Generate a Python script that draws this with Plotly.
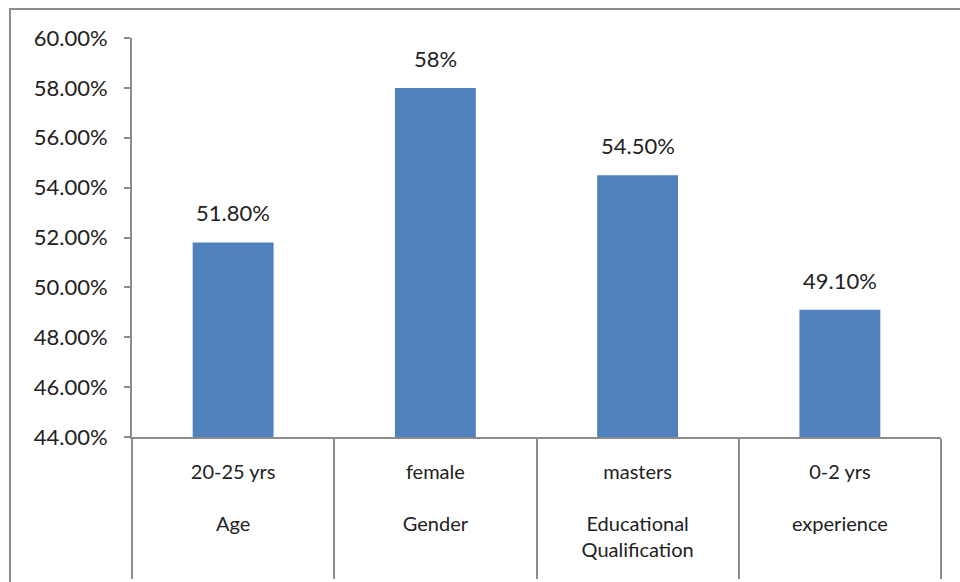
import plotly.graph_objects as go

categories = ["20-25 yrs<br><br>Age", "female<br><br>Gender",
              "masters<br><br>Educational<br>Qualification", "0-2 yrs<br><br>experience"]
values = [0.518, 0.58, 0.545, 0.491]
labels = ["51.80%", "58%", "54.50%", "49.10%"]

FONT = "Lato"
GRAY = "#8c8c8c"
TXT = "#222"

fig = go.Figure()
fig.add_trace(go.Bar(x=categories, y=values, width=0.4,
                     marker=dict(color="#4f81bd", line=dict(width=0)),
                     hoverinfo="skip"))

for c, v, t in zip(categories, values, labels):
    fig.add_annotation(x=c, y=v, text=t, showarrow=False, yanchor="bottom",
                       yshift=14, font=dict(family=FONT, size=22, color=TXT))

# outer chart border (extends past the cropped picture on the right and bottom)
fig.add_shape(type="rect", xref="paper", yref="paper",
              x0=-0.1508, x1=1.1, y0=-0.6, y1=1.0727,
              line=dict(color=GRAY, width=2), layer="below")

fig.update_layout(
    width=960, height=582,
    margin=dict(l=132, r=19, t=38, b=145),
    paper_bgcolor="white", plot_bgcolor="white",
    showlegend=False,
    font=dict(family=FONT, size=21, color=TXT),
)
fig.update_yaxes(range=[0.44, 0.60], dtick=0.02, tickformat=".2%",
                 showgrid=False, zeroline=False, automargin=False,
                 showline=True, linecolor=GRAY, linewidth=2,
                 ticks="outside", ticklen=6, tickcolor=GRAY, tickwidth=2,
                 ticklabelstandoff=12,
                 tickfont=dict(family=FONT, size=22, color=TXT))
fig.update_xaxes(type="category", showgrid=False, zeroline=False, automargin=False,
                 showline=True, linecolor=GRAY, linewidth=2,
                 ticks="outside", tickson="boundaries", ticklen=140,
                 tickcolor=GRAY, tickwidth=2,
                 ticklabelstandoff=16,
                 tickfont=dict(family=FONT, size=20, color=TXT))

fig.write_html("out.html")
